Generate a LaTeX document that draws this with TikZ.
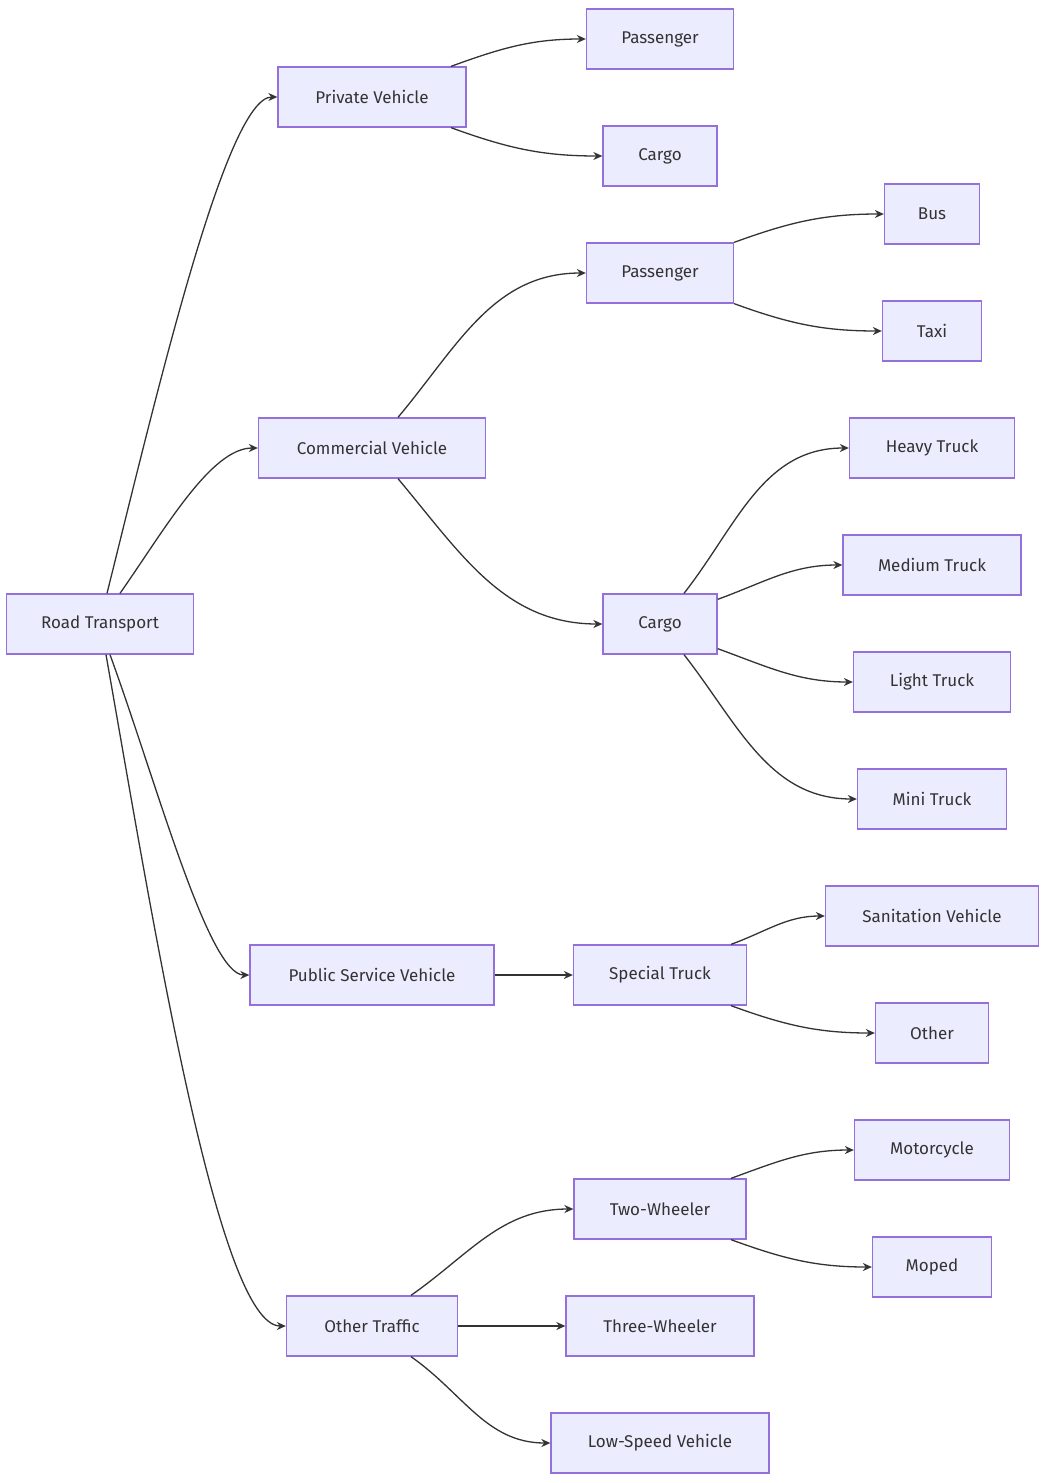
\documentclass[tikz,border=0pt]{standalone}
\usepackage{fontspec}
\setmainfont{Fira Sans}
\usetikzlibrary{arrows.meta}

\tikzset{
    box/.style={draw=boxLine, fill=boxFill, line width=1.3pt, minimum height=60pt,
        inner sep=0pt, font=\fontsize{17}{20}\selectfont, text=textCol},
    edge/.style={draw=edgeCol, line width=1.3pt, -{Stealth[length=9pt,width=8pt]}}
}
\definecolor{boxLine}{HTML}{9370DB}
\definecolor{boxFill}{HTML}{ECECFF}
\definecolor{edgeCol}{HTML}{333333}
\definecolor{textCol}{HTML}{333333}

\begin{document}
\begin{tikzpicture}[x=1pt, y=-1pt]
    \useasboundingbox (0,0) rectangle (1056,1483);

    % level 0 and 1
    \node[box, minimum width=187pt] (road) at (100,624) {Road Transport};
    \node[box, minimum width=188pt] (private) at (372,97) {Private Vehicle};
    \node[box, minimum width=227pt] (commercial) at (372,448) {Commercial Vehicle};
    \node[box, minimum width=244pt] (public) at (372,975) {Public Service Vehicle};
    \node[box, minimum width=171pt] (otherTraffic) at (372,1326) {Other Traffic};

    % level 2
    \node[box, minimum width=147pt] (privPass) at (660,39) {Passenger};
    \node[box, minimum width=114pt] (privCargo) at (660,156) {Cargo};
    \node[box, minimum width=147pt] (comPass) at (660,273) {Passenger};
    \node[box, minimum width=114pt] (comCargo) at (660,624) {Cargo};
    \node[box, minimum width=173pt] (special) at (660,975) {Special Truck};
    \node[box, minimum width=172pt] (twoWheel) at (660,1209) {Two-Wheeler};
    \node[box, minimum width=188pt] (threeWheel) at (660,1326) {Three-Wheeler};
    \node[box, minimum width=218pt] (lowSpeed) at (660,1443) {Low-Speed Vehicle};

    % level 3
    \node[box, minimum width=95pt] (bus) at (932,214) {Bus};
    \node[box, minimum width=99pt] (taxi) at (932,331) {Taxi};
    \node[box, minimum width=165pt] (heavy) at (932,448) {Heavy Truck};
    \node[box, minimum width=178pt] (medium) at (932,565) {Medium Truck};
    \node[box, minimum width=157pt] (light) at (932,682) {Light Truck};
    \node[box, minimum width=149pt] (mini) at (932,799) {Mini Truck};
    \node[box, minimum width=213pt] (sanitation) at (932,916) {Sanitation Vehicle};
    \node[box, minimum width=113pt] (other) at (932,1033) {Other};
    \node[box, minimum width=155pt] (motorcycle) at (932,1150) {Motorcycle};
    \node[box, minimum width=119pt] (moped) at (932,1267) {Moped};

    %Edges
    \draw[edge] ([xshift=7pt]road.north) to[out=76, in=180, out looseness=1, in looseness=0.25] (private.west);
    \draw[edge] ([xshift=20pt]road.north) to[out=55, in=180, in looseness=0.6] (commercial.west);
    \draw[edge] ([xshift=10pt]road.south) to[out=-70, in=180, in looseness=0.3] (public.west);
    \draw[edge] ([xshift=6pt]road.south) to[out=-80, in=180, in looseness=0.25] (otherTraffic.west);

    \draw[edge] ([xshift=79pt]private.north) to[out=20, in=180] (privPass.west);
    \draw[edge] ([xshift=79pt]private.south) to[out=-20, in=180] (privCargo.west);

    \draw[edge] ([xshift=26pt]commercial.north) to[out=50, in=180] (comPass.west);
    \draw[edge] ([xshift=26pt]commercial.south) to[out=-50, in=180] (comCargo.west);

    \draw[edge] (comPass.north east) to[out=20, in=180] (bus.west);
    \draw[edge] (comPass.south east) to[out=-20, in=180] (taxi.west);

    \draw[edge] ([xshift=24pt]comCargo.north) to[out=52, in=180] (heavy.west);
    \draw[edge] ([yshift=-6pt]comCargo.north east) to[out=20, in=180] (medium.west);
    \draw[edge] ([yshift=6pt]comCargo.south east) to[out=-20, in=180] (light.west);
    \draw[edge] ([xshift=24pt]comCargo.south) to[out=-52, in=180] (mini.west);

    \draw[edge] (public.east) -- (special.west);
    \draw[edge] ([xshift=71pt]special.north) to[out=20, in=180] (sanitation.west);
    \draw[edge] ([xshift=71pt]special.south) to[out=-20, in=180] (other.west);

    \draw[edge] ([xshift=39pt]otherTraffic.north) to[out=35, in=180] (twoWheel.west);
    \draw[edge] (otherTraffic.east) -- (threeWheel.west);
    \draw[edge] ([xshift=39pt]otherTraffic.south) to[out=-35, in=180] (lowSpeed.west);

    \draw[edge] ([xshift=71pt]twoWheel.north) to[out=20, in=180] (motorcycle.west);
    \draw[edge] ([xshift=71pt]twoWheel.south) to[out=-20, in=180] (moped.west);
\end{tikzpicture}
\end{document}
